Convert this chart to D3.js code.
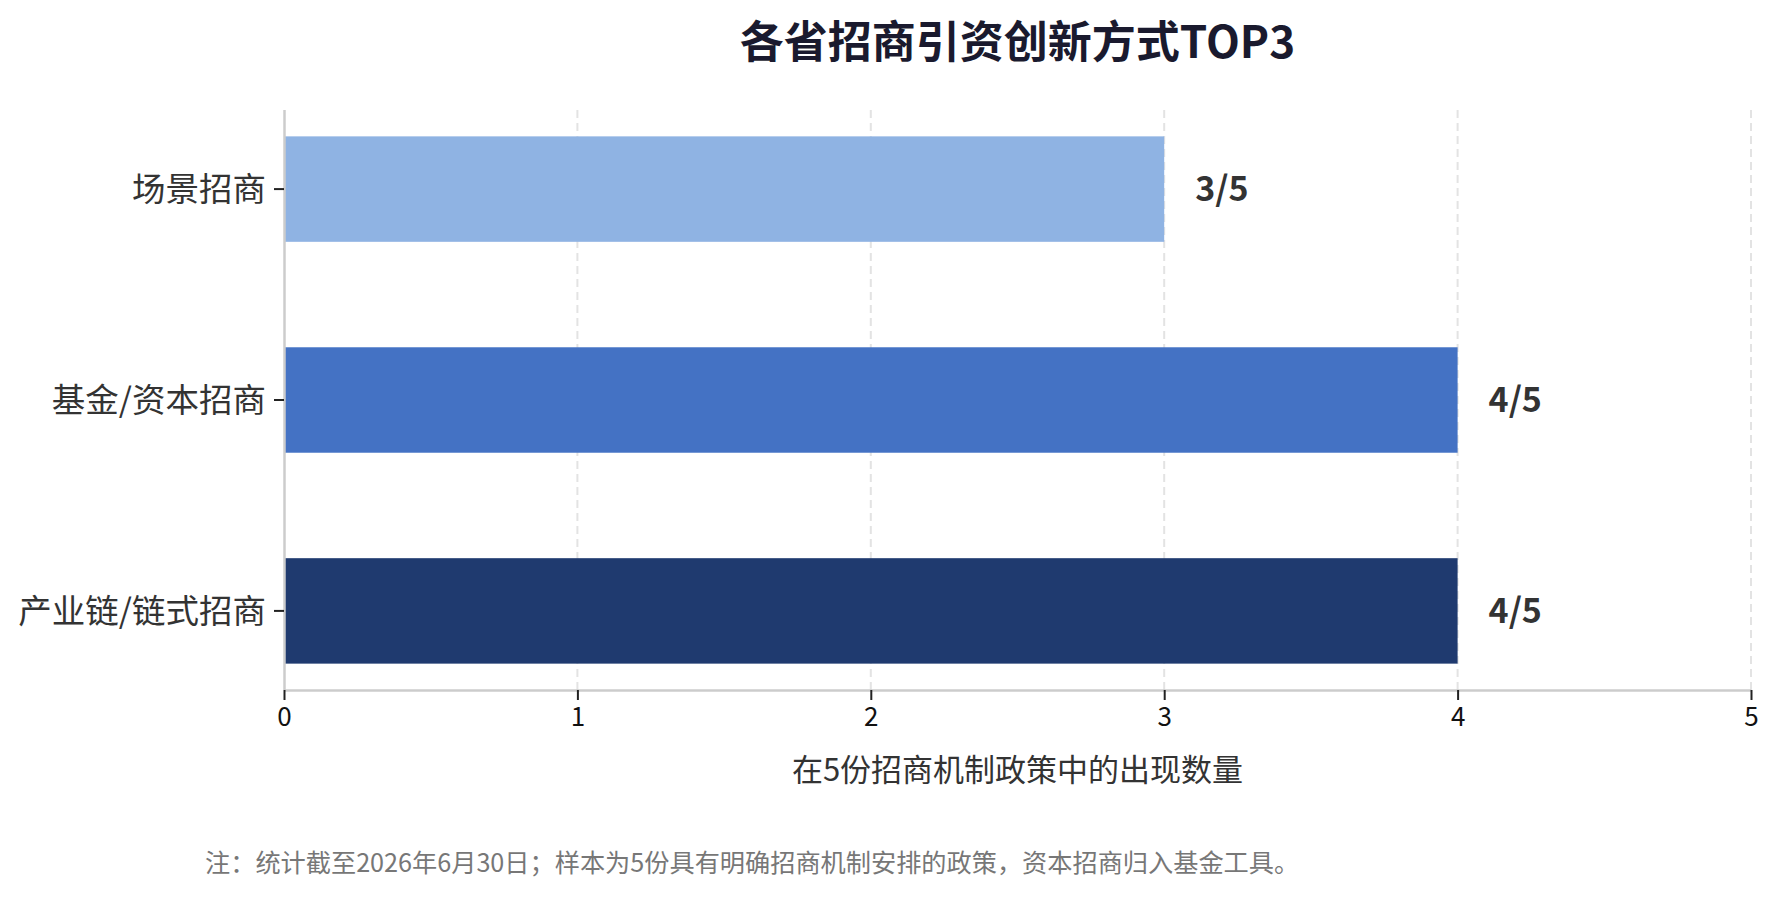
<!DOCTYPE html>
<html>
<head>
    <meta charset="utf-8">
    <title>各省招商引资创新方式TOP3</title>
    <script src="https://d3js.org/d3.v7.min.js"></script>
    <style>
        body { margin: 0; background: #fff; }
        svg { display: block; }
        text { font-family: "Noto Sans CJK SC", "Noto Sans", sans-serif; }
        .grid line { stroke: #e3e3e3; stroke-width: 2; stroke-dasharray: 8 5; }
        .domain { stroke: #cccccc; stroke-width: 2.5; }
        .tick line { stroke: #222; stroke-width: 2; }
    </style>
</head>
<body>
    <svg></svg>
    <script>
        // 数据
        const categories = ["场景招商", "基金/资本招商", "产业链/链式招商"];
        const counts = [3, 4, 4];
        const labels = ["3/5", "4/5", "4/5"];
        const colors = ["#8fb3e3", "#4472c4", "#1f3a6f"];
        const xTicks = [0, 1, 2, 3, 4, 5];

        const width = 1779;
        const height = 898;
        const margin = { top: 110, right: 28, bottom: 208, left: 284 };

        const svg = d3.select("svg")
            .attr("width", width)
            .attr("height", height);

        const x = d3.scaleLinear()
            .domain([0, 5])
            .range([margin.left, width - margin.right]);

        const y = d3.scaleBand()
            .domain(categories)
            .range([margin.top, height - margin.bottom])
            .paddingInner(0.5)
            .paddingOuter(0.125);

        // 网格线
        svg.append("g")
            .attr("class", "grid")
            .selectAll("line")
            .data(xTicks.filter(d => d > 0))
            .join("line")
            .attr("x1", d => x(d))
            .attr("x2", d => x(d))
            .attr("y1", margin.top)
            .attr("y2", height - margin.bottom);

        // 条形
        svg.append("g")
            .selectAll("rect")
            .data(categories)
            .join("rect")
            .attr("x", x(0))
            .attr("y", d => y(d))
            .attr("width", (d, i) => x(counts[i]) - x(0))
            .attr("height", y.bandwidth())
            .attr("fill", (d, i) => colors[i]);

        // x 轴
        const xAxis = svg.append("g")
            .attr("transform", `translate(0,${height - margin.bottom})`)
            .call(d3.axisBottom(x).tickValues(xTicks).tickFormat(d3.format("d")).tickSize(10).tickPadding(8));
        xAxis.selectAll(".tick text")
            .attr("fill", "#111")
            .style("font-size", "26px");

        // y 轴
        const yAxis = svg.append("g")
            .attr("transform", `translate(${margin.left},0)`)
            .call(d3.axisLeft(y).tickSize(10).tickPadding(8));
        yAxis.selectAll(".tick text")
            .attr("fill", "#333")
            .attr("dy", "0.35em")
            .style("font-size", "33.5px");
        yAxis.select(".domain").attr("d", `M0.5,${margin.top}V${height - margin.bottom}`);
        xAxis.select(".domain").attr("d", `M${margin.left},0.5H${width - margin.right}`);

        // 数值标签
        svg.append("g")
            .selectAll("text")
            .data(categories)
            .join("text")
            .attr("x", (d, i) => x(counts[i]) + 31)
            .attr("y", d => y(d) + y.bandwidth() / 2)
            .attr("dy", "0.35em")
            .attr("fill", "#333")
            .style("font-size", "34px")
            .style("font-weight", "bold")
            .text((d, i) => labels[i]);

        // 标题
        svg.append("text")
            .attr("x", (x(0) + x(5)) / 2)
            .attr("y", 58)
            .attr("text-anchor", "middle")
            .attr("fill", "#1a1a2e")
            .style("font-size", "44px")
            .style("font-weight", "bold")
            .text("各省招商引资创新方式TOP3");

        // 轴标题
        svg.append("text")
            .attr("x", (x(0) + x(5)) / 2)
            .attr("y", 781)
            .attr("text-anchor", "middle")
            .attr("fill", "#333")
            .style("font-size", "31px")
            .text("在5份招商机制政策中的出现数量");

        // 注释
        svg.append("text")
            .attr("x", 205)
            .attr("y", 872)
            .attr("fill", "#777")
            .style("font-size", "25.2px")
            .text("注：统计截至2026年6月30日；样本为5份具有明确招商机制安排的政策，资本招商归入基金工具。");
    </script>
</body>
</html>
